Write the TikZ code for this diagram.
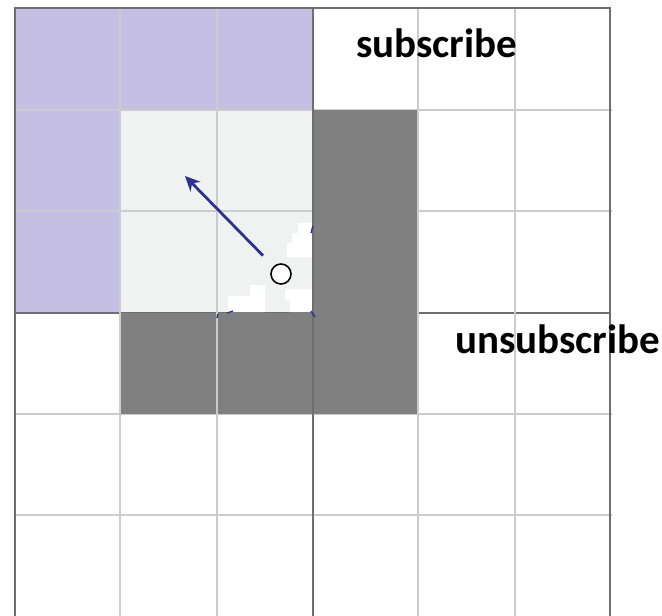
\documentclass[tikz,border=0pt]{standalone}
\usepackage{fontspec}
\setsansfont{Carlito}
\usetikzlibrary{arrows.meta}
\definecolor{lavender}{HTML}{C5BFE4}
\definecolor{pale}{HTML}{F0F2F2}
\definecolor{darkcell}{HTML}{808080}
\definecolor{rule}{HTML}{6E6E6E}
\definecolor{navy}{HTML}{2E3192}

\begin{document}
\begin{tikzpicture}[x=1pt,y=-1pt,
    thin grid/.style={draw=gray!40,line width=1.6pt},
    thick grid/.style={draw=rule,line width=2pt},
    pt/.style={circle,draw=black,fill=white,line width=1.6pt,minimum size=20pt,inner sep=0pt},
    move/.style={navy,line width=2.8pt,-{Stealth[length=15pt,width=14pt]},shorten <=15pt},
    msgtext/.style={font=\sffamily\bfseries\fontsize{41}{48}\selectfont,inner sep=0pt,anchor=base west}]
  \useasboundingbox (0,0) rectangle (662,616);
  % --- cells ---
  \fill[lavender] (15,8) rectangle (313,110);
  \fill[lavender] (15,110) rectangle (120,313);
  \fill[pale] (120,110) rectangle (313,313);
  % rows first, the dark cells cover them
  \foreach \y in {110,211,414,515}
    \draw[thin grid] (15,\y) -- (612,\y);
  \draw[thick grid] (15,313) -- (610,313);
  \fill[darkcell] (313,110) rectangle (418,414);
  \fill[darkcell] (120,313) rectangle (313,414);
  % white steps left round the point
  \fill[white] (312,223) -- (298,223) -- (298,233) -- (292,233) -- (292,243)
    -- (287,243) -- (287,257) -- (312,257) -- cycle;
  \fill[white] (228,312) -- (228,296) -- (250,296) -- (250,285) -- (265,285)
    -- (265,312) -- cycle;
  \fill[white] (285,289) -- (312,289) -- (312,312) -- (290,312) -- (290,300)
    -- (285,300) -- cycle;
  % --- columns and border ---
  \foreach \x in {120,217,418,515}
    \draw[thin grid] (\x,8) -- (\x,616);
  \draw[thick grid] (313,8) -- (313,616);
  \draw[thick grid] (15,616) -- (15,8) -- (610,8) -- (610,616);
  % stray blue marks
  \draw[navy,line width=1.4pt] (313,226) -- (311,233);
  \draw[navy,line width=1.4pt] (311,311) -- (315,317);
  \draw[navy,line width=1.4pt] (218,314) -- (217,318);
  \draw[navy,line width=1.4pt] (227,313) -- (233,311);
  % --- object and its motion ---
  \node[pt] (obj) at (281,274) {};
  \coordinate (tip) at (185,176);
  \draw[move] (obj) -- (tip);
  % --- texts ---
  \node[msgtext] (sub) at (356,57) {subscribe};
  \node[msgtext] (unsub) at (455,353) {unsubscribe};
\end{tikzpicture}
\end{document}
